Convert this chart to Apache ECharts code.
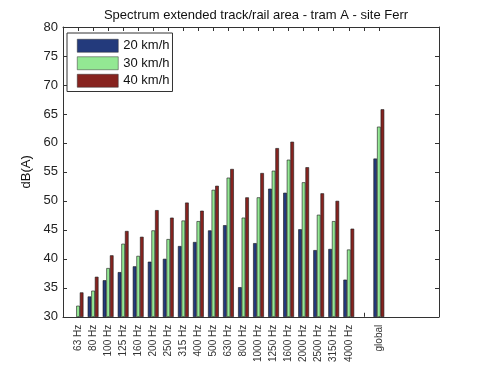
<!DOCTYPE html>
<html>
<head>
<meta charset="utf-8">
<script src="https://cdn.jsdelivr.net/npm/echarts@6/dist/echarts.min.js"></script>
<style>html,body{margin:0;padding:0;background:#fff;}#c{width:485px;height:365px;}</style>
</head>
<body>
<div id="c"></div>
<script>
// Categories at positions 0..25 (empty slots are blank)
const categories = ['', '63 Hz', '80 Hz', '100 Hz', '125 Hz', '160 Hz', '200 Hz', '250 Hz', '315 Hz', '400 Hz',
  '500 Hz', '630 Hz', '800 Hz', '1000 Hz', '1250 Hz', '1600 Hz', '2000 Hz', '2500 Hz', '3150 Hz', '4000 Hz',
  '', 'global', '', '', '', ''];
const speed20 = [null, 29.5, 33.5, 36.3, 37.7, 38.7, 39.5, 40.0, 42.2, 42.9, 44.9, 45.8, 35.1, 42.7, 52.1, 51.4, 45.1, 41.5, 41.7, 36.4, null, 57.3, null, null, null, null];
const speed30 = [null, 31.9, 34.5, 38.4, 42.6, 40.5, 44.9, 43.4, 46.6, 46.5, 51.9, 54.0, 47.1, 50.6, 55.2, 57.1, 53.2, 47.6, 46.5, 41.6, null, 62.8, null, null, null, null];
const speed40 = [null, 34.2, 36.9, 40.6, 44.8, 43.8, 48.4, 47.1, 49.7, 48.3, 52.6, 55.5, 50.6, 54.8, 59.1, 60.2, 55.8, 51.3, 50.0, 45.2, null, 65.8, null, null, null, null];
const seriesNames = ['20 km/h', '30 km/h', '40 km/h'];
const colors = ['#233a7c', '#93e893', '#87231f'];
const yMin = 30, yMax = 80, yStep = 5;

const chart = echarts.init(document.getElementById('c'), null, {renderer: 'canvas'});
const font = 'Liberation Sans, Arial, Helvetica, sans-serif';
const tickShow = (idx) => idx >= 1 && idx <= 21;
const mk = (name, data, color) => ({
  name: name, type: 'bar', data: data, barWidth: 3.6, barGap: '0%',
  itemStyle: {color: color, borderColor: '#1a1a1a', borderWidth: 0.6},
  xAxisIndex: 0, yAxisIndex: 0
});
chart.setOption({
  animation: false,
  backgroundColor: '#fff',
  textStyle: {fontFamily: font},
  title: {
    text: 'Spectrum extended track/rail area - tram A - site Ferr',
    left: 251, top: 4, textAlign: 'center',
    textStyle: {fontFamily: font, fontSize: 13, fontWeight: 'normal', color: '#111'}
  },
  legend: {
    orient: 'vertical', left: 67, top: 33,
    data: seriesNames,
    itemWidth: 41, itemHeight: 13, itemGap: 4,
    padding: [6, 3, 4, 10],
    borderColor: '#333', borderWidth: 1, backgroundColor: '#fff',
    icon: 'rect',
    itemStyle: {borderWidth: 0.5, borderColor: '#333'},
    textStyle: {fontFamily: font, fontSize: 13, color: '#111', padding: [0, 0, 0, 0]}
  },
  grid: {left: 63, right: 46, top: 27, bottom: 40, containLabel: false},
  xAxis: [{
    type: 'category', data: categories, boundaryGap: false, position: 'bottom',
    axisLine: {lineStyle: {color: '#333', width: 1}},
    axisTick: {inside: true, length: 4, interval: tickShow, lineStyle: {color: '#333'}},
    axisLabel: {interval: 0, rotate: 90, fontSize: 10, color: '#333', margin: 8, fontFamily: font},
    splitLine: {show: false}
  }, {
    type: 'category', data: categories, boundaryGap: false, position: 'top',
    axisLine: {lineStyle: {color: '#333', width: 1}},
    axisTick: {inside: true, length: 4, interval: tickShow, lineStyle: {color: '#333'}},
    axisLabel: {show: false},
    splitLine: {show: false}
  }],
  yAxis: [{
    type: 'value', min: yMin, max: yMax, interval: yStep, position: 'left',
    name: 'dB(A)', nameLocation: 'middle', nameGap: 20, nameRotate: 90,
    nameTextStyle: {fontFamily: font, fontSize: 13, color: '#111'},
    axisLine: {show: true, lineStyle: {color: '#333', width: 1}},
    axisTick: {show: true, inside: true, length: 4, lineStyle: {color: '#333'}},
    axisLabel: {fontSize: 13, color: '#222', margin: 5, fontFamily: font},
    splitLine: {show: false}
  }, {
    type: 'value', min: yMin, max: yMax, interval: yStep, position: 'right',
    axisLine: {show: true, lineStyle: {color: '#333', width: 1}},
    axisTick: {show: true, inside: true, length: 4, lineStyle: {color: '#333'}},
    axisLabel: {show: false},
    splitLine: {show: false}
  }],
  series: [
    mk(seriesNames[0], speed20, colors[0]),
    mk(seriesNames[1], speed30, colors[1]),
    mk(seriesNames[2], speed40, colors[2])
  ]
});
</script>
</body>
</html>
